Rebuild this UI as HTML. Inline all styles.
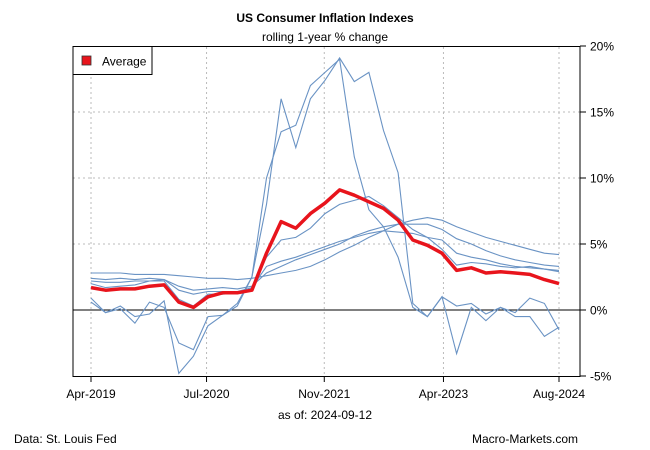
<!DOCTYPE html>
<html><head><meta charset="utf-8"><style>
body{margin:0;background:#fff;}
svg{display:block;font-family:"Liberation Sans",Arial,sans-serif;}
</style></head><body>
<svg id="chart" width="650" height="450">
<rect width="650" height="450" fill="#fff"/>
<text x="325" y="22" text-anchor="middle" font-size="12" font-weight="bold">US Consumer Inflation Indexes</text>
<text x="325" y="41" text-anchor="middle" font-size="12">rolling 1-year % change</text>
<g id="grid"></g><g id="series"></g><g id="axes"></g>
<rect x="73" y="46.5" width="507" height="330" fill="none" stroke="#000"/>
<g>
<rect x="73" y="46.5" width="79" height="28" fill="#fff" stroke="#000"/>
<rect x="82" y="56" width="9" height="9" fill="#e8141c" stroke="#333" stroke-width="0.8"/>
<text x="102" y="65.5" font-size="12">Average</text>
</g>
<text x="325" y="419" text-anchor="middle" font-size="12">as of:  2024-09-12</text>
<text x="14" y="443" font-size="12">Data: St. Louis Fed</text>
<text x="578" y="443" text-anchor="end" font-size="12">Macro-Markets.com</text>
</svg>
<script>
const months = [];for(let m=0;m<=64;m+=2)months.push(m);
const average=[1.7,1.5,1.6,1.6,1.8,1.9,0.6,0.2,1.0,1.3,1.3,1.5,4.3,6.7,6.2,7.3,8.1,9.1,8.7,8.2,7.7,6.8,5.3,4.9,4.3,3.0,3.2,2.8,2.9,2.8,2.7,2.3,2.0];
const spikeA=[0.9,-0.2,0.3,-0.5,-0.3,0.7,-4.8,-3.5,-1.2,-0.4,0.5,2.5,8,16,12.3,16,17.4,19.1,17.3,18,13.6,10.4,0.5,-0.5,1.0,-3.3,0.2,-0.8,0.2,-0.2,0.9,0.5,-1.5];
const spikeB=[0.6,-0.2,0.1,-1.0,0.6,0.2,-2.5,-3.0,-0.5,-0.4,0.3,2.5,10,13.5,14,17,18,19,11.6,7.6,6.3,4.0,0.2,-0.5,1.0,0.3,0.5,-0.3,0.2,-0.5,-0.5,-2.0,-1.3];
const cpiA=[2.0,1.7,1.8,1.9,2.2,2.2,0.8,0.3,1.2,1.2,1.3,1.6,4.0,5.3,5.5,6.2,7.3,8.0,8.3,8.6,7.9,7.0,6.1,5.5,4.6,3.4,3.6,3.5,3.3,3.2,3.3,3.1,2.9];
const cpiB=[2.8,2.8,2.8,2.7,2.7,2.7,2.6,2.5,2.4,2.4,2.3,2.4,2.6,2.8,3.0,3.3,3.8,4.4,4.9,5.5,6.0,6.5,6.8,7.0,6.8,6.3,5.9,5.5,5.2,4.9,4.6,4.3,4.2];
const cpiC=[2.4,2.3,2.4,2.3,2.4,2.3,1.8,1.5,1.6,1.7,1.6,1.8,2.8,3.3,3.8,4.2,4.6,5.0,5.6,6.0,6.3,6.5,6.5,6.5,6.1,5.4,5.0,4.5,4.1,3.8,3.6,3.4,3.3];
const cpiD=[2.2,2.1,2.1,2.2,2.2,2.3,1.5,1.2,1.4,1.4,1.4,1.7,3.3,3.7,4.0,4.4,4.8,5.2,5.5,5.8,6.0,5.9,5.8,5.5,5.3,4.3,4.0,3.8,3.5,3.3,3.2,3.1,3.0];
const yTicks=[20,15,10,5,0,-5];
const yTickLabels=["20%","15%","10%","5%","0%","-5%"];
const xTickLabels=["Apr-2019","Jul-2020","Nov-2021","Apr-2023","Aug-2024"];
const xTickMonths=[0,15.8,31.9,48.2,64];
const NS="http://www.w3.org/2000/svg";
const x=m=>91+m*(468/64);
const y=v=>310-v*13.2;
function mk(tag,attrs,parent){const e=document.createElementNS(NS,tag);for(const k in attrs)e.setAttribute(k,attrs[k]);parent.appendChild(e);return e;}
const grid=document.getElementById('grid'),axes=document.getElementById('axes'),ser=document.getElementById('series');
yTicks.forEach((v,i)=>{
 if(v!==0&&v!==20&&v!==-5){const g=mk('line',{x1:73,x2:580,y1:y(v),y2:y(v),stroke:'#bbb','stroke-dasharray':'2,3'},grid);
 
 }
 const t=mk('line',{x1:580,x2:586,y1:y(v),y2:y(v),stroke:'#000'},axes);
 
 
 const l=mk('text',{x:590,y:y(v)+4.5,'font-size':12},axes);l.textContent=yTickLabels[i];
 
 
});
xTickMonths.forEach((m,i)=>{
 const g=mk('line',{x1:x(m),x2:x(m),y1:47,y2:376,stroke:'#bbb','stroke-dasharray':'2,3'},grid);
 
 
 const t=mk('line',{x1:x(m),x2:x(m),y1:376,y2:382,stroke:'#000'},axes);
 
 
 const l=mk('text',{x:x(m),y:398,'font-size':12,'text-anchor':'middle'},axes);l.textContent=xTickLabels[i];
 
 
});
const zl=mk('line',{x1:73,x2:580,y1:y(0),y2:y(0),stroke:'#000'},grid);


const pts=a=>a.map((v,i)=>x(months[i]).toFixed(1)+','+y(v).toFixed(1)).join(' ');
[["spike-a",spikeA],["spike-b",spikeB],["cpi-a",cpiA],["cpi-b",cpiB],["cpi-c",cpiC],["cpi-d",cpiD]].forEach(([n,a])=>{
 const p=mk('polyline',{points:pts(a),fill:'none',stroke:'#6a93c4','stroke-width':1.1},ser);
 
 
});
const av=mk('polyline',{points:pts(average),fill:'none',stroke:'#e8141c','stroke-width':3.5,'stroke-linejoin':'round'},ser);


</script>
</body></html>
